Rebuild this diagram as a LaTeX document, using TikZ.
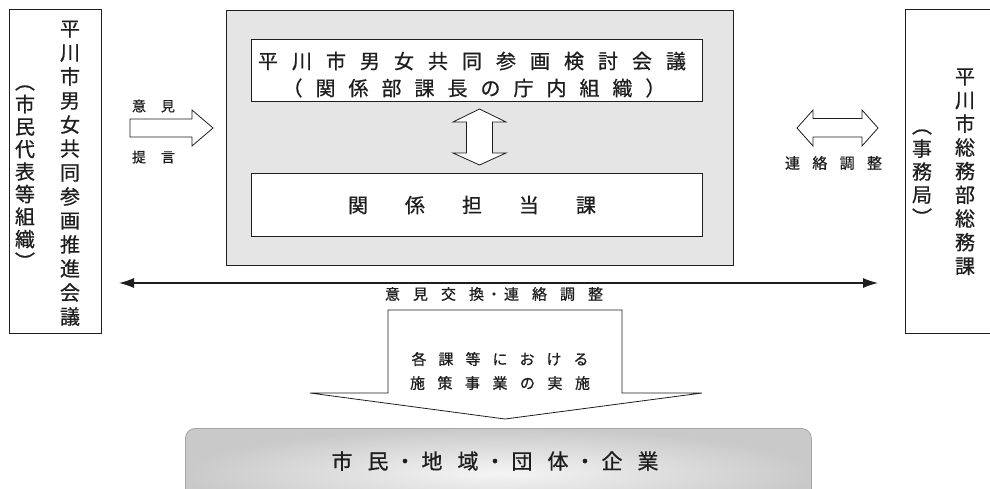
\documentclass[tikz,border=0pt]{standalone}
\usepackage{fontspec}
\setmainfont{Noto Sans CJK JP}[FakeBold=0.7]
\usetikzlibrary{arrows.meta}
\ExplSyntaxOn
\NewDocumentCommand\vstack{m}{
  \bool_set_true:N \l_tmpa_bool
  \tl_map_inline:nn {#1}{
    \bool_if:NTF \l_tmpa_bool {\bool_set_false:N \l_tmpa_bool}{\\}
    ##1\vphantom{国}
  }
}
\NewDocumentCommand\spacedtext{mm}{
  \bool_set_true:N \l_tmpa_bool
  \tl_map_inline:nn {#2}{
    \bool_if:NTF \l_tmpa_bool {\bool_set_false:N \l_tmpa_bool}{\hspace{#1}}
    ##1
  }
}
\ExplSyntaxOff
\definecolor{ink}{HTML}{1E1E1E}
\begin{document}
\begin{tikzpicture}[x=1pt,y=-1pt,
  box/.style={draw=ink, line width=0.8pt, inner sep=0pt, anchor=north west},
  blockarrow/.style={draw=ink, line width=0.8pt, fill=white, line join=miter},
  lbl/.style={inner sep=0pt, text=ink},
  vcol/.style={lbl, align=center}
]
\useasboundingbox (0,0) rectangle (990,488);
\fill[white] (0,0) rectangle (990,488);

% boxes
\node[box, minimum width=92pt, minimum height=324pt] (lbox) at (9,9) {};
\node[box, minimum width=100pt, minimum height=324pt] (rbox) at (905,9) {};
\node[box, fill=gray!20, minimum width=507pt, minimum height=255pt] (main) at (226,10) {};
\node[box, fill=white, minimum width=451pt, minimum height=62pt] (kentou) at (251,39) {};
\node[box, fill=white, minimum width=451pt, minimum height=63pt] (tanto) at (251,173) {};
\node[box, draw=gray!70, rounded corners=10pt, minimum width=626pt, minimum height=90pt,
      inner color=gray!8, outer color=gray!42, shade] (citizens) at (185,428) {};

% left box texts
\node[vcol, font=\fontsize{20}{24}\selectfont] (lmain) at (70,173) {\vstack{平川市男女共同参画推進会議}};
\node[vcol, font=\fontsize{20}{22.5}\selectfont] (lsub) at (25,172) {\vstack{︵市民代表等組織︶}};
% right box texts
\node[vcol, font=\fontsize{20}{23.7}\selectfont] (rmain) at (965,171.5) {\vstack{平川市総務部総務課}};
\node[vcol, font=\fontsize{20}{23}\selectfont] (rsub) at (922,172) {\vstack{︵事務局︶}};

% main box texts
\node[lbl, font=\fontsize{20}{24}\selectfont] (kt1) at (472,61) {\spacedtext{14pt}{平川市男女共同参画検討会議}};
\node[lbl, font=\fontsize{20}{24}\selectfont] (kt2) at (474,88) {\spacedtext{13pt}{（関係部課長の庁内組織）}};
\node[lbl, font=\fontsize{20}{24}\selectfont] (tt) at (472,205) {\spacedtext{37pt}{関係担当課}};

% vertical double block arrow
\draw[blockarrow] (479.5,109) -- (453,122) -- (466.5,122) -- (466.5,153) -- (453,153)
  -- (479.5,165) -- (506,153) -- (492.5,153) -- (492.5,122) -- (506,122) -- cycle;

% opinion arrow
\draw[blockarrow] (130,119) -- (192,119) -- (192,110) -- (213,128) -- (192,146)
  -- (192,137) -- (130,137) -- cycle;
\node[lbl, font=\fontsize{14}{16}\selectfont] (iken) at (153.5,106) {\spacedtext{15pt}{意見}};
\node[lbl, font=\fontsize{14}{16}\selectfont] (teigen) at (153.5,157) {\spacedtext{15pt}{提言}};

% liaison double arrow
\draw[blockarrow] (797,128) -- (813,110) -- (813,118.5) -- (862,118.5) -- (862,110)
  -- (878,128) -- (862,146) -- (862,137) -- (813,137) -- (813,146) -- cycle;
\node[lbl, font=\fontsize{15}{17}\selectfont] (renraku) at (833.5,163) {\spacedtext{12.3pt}{連絡調整}};

% long two-way arrow
\coordinate (la) at (119,283);
\coordinate (ra) at (878,283);
\draw[draw=ink, line width=1.2pt, {Latex[length=15pt,width=10pt]}-{Latex[length=15pt,width=10pt]}] (la) -- (ra);
\node[lbl, font=\fontsize{15}{17}\selectfont] (koukan) at (494,294)
  {\spacedtext{13pt}{意見交換}\hspace{2.5pt}・\hspace{2.5pt}\spacedtext{13pt}{連絡調整}};

% down block arrow
\draw[blockarrow] (388,310) -- (622,310) -- (622,393) -- (702,393) -- (505,419)
  -- (310,393) -- (388,393) -- cycle;
\node[lbl, font=\fontsize{15}{17}\selectfont] (jisshi1) at (500,359) {\spacedtext{12pt}{各課等における}};
\node[lbl, font=\fontsize{15}{17}\selectfont] (jisshi2) at (500,383) {\spacedtext{12.5pt}{施策事業の実施}};

% citizens text
\node[lbl, font=\fontsize{21}{24}\selectfont] (shimin) at (495,461)
  {市\hspace{15pt}民\hspace{6pt}・\hspace{6pt}地\hspace{15pt}域\hspace{6pt}・\hspace{6pt}団\hspace{15pt}体\hspace{6pt}・\hspace{6pt}企\hspace{15pt}業};
\end{tikzpicture}
\end{document}
